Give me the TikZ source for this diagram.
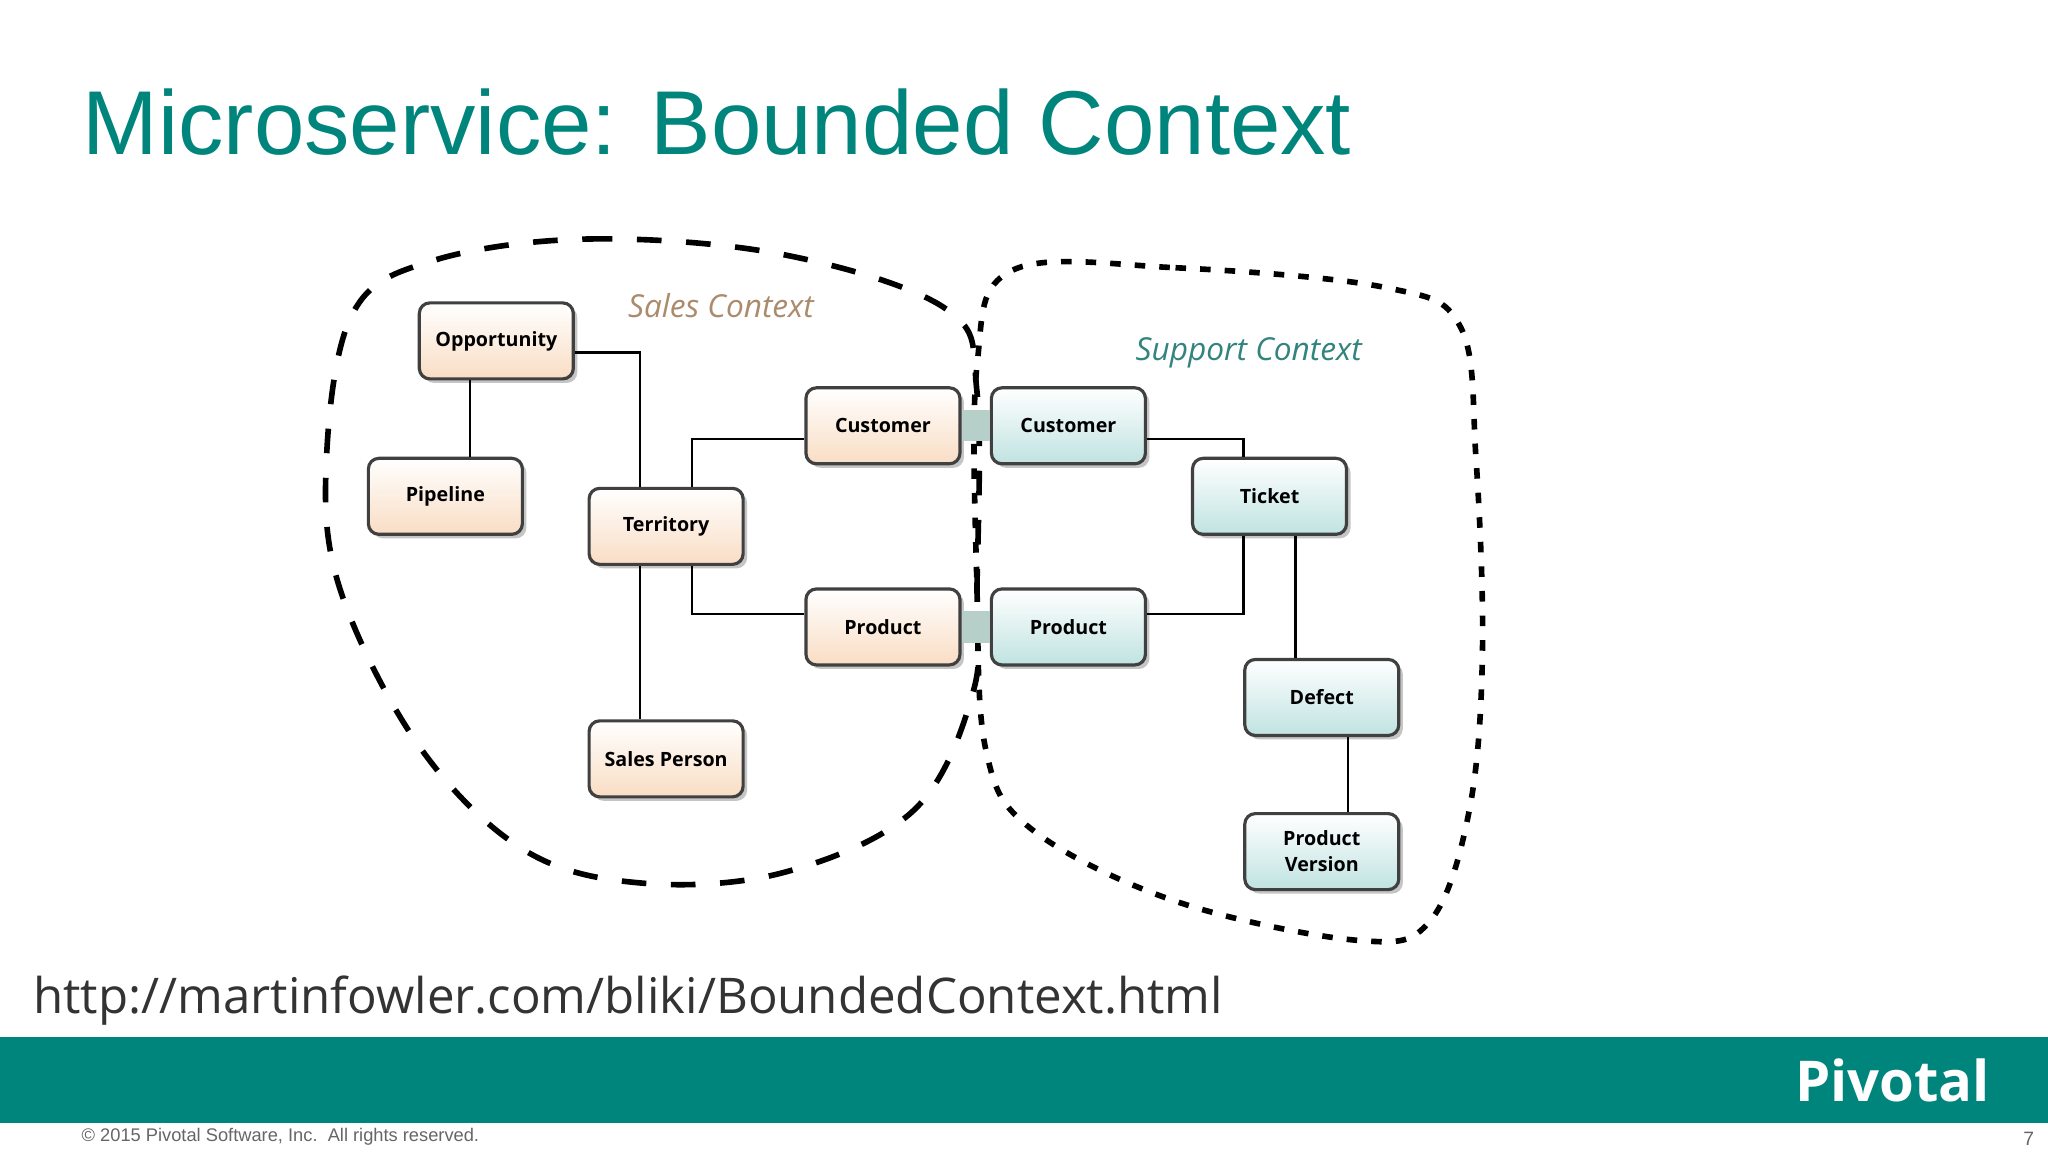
\documentclass[tikz,border=0pt]{standalone}
\usepackage{fontspec}
\setmainfont{Open Sans}
\newfontfamily\titlefont{Liberation Sans}
\usetikzlibrary{positioning,shadows,calc}
\definecolor{pTeal}{HTML}{00857D}
\definecolor{sPeach}{HTML}{F9DDC4}
\definecolor{sMint}{HTML}{BFE3E1}
\definecolor{sLink}{HTML}{B7CFC9}
\tikzset{
  box/.style={draw=black!75, line width=0.9pt, rounded corners=3pt,
    minimum width=1.54cm, minimum height=0.76cm, align=center,
    font=\fontsize{5.6}{6.4}\selectfont\bfseries,
    drop shadow={shadow xshift=0.4mm, shadow yshift=-0.4mm, fill=black!45}},
  sales/.style={box, top color=white, bottom color=sPeach},
  support/.style={box, top color=white, bottom color=sMint},
  wire/.style={line width=0.7pt, black},
}
\begin{document}
\begin{tikzpicture}[x=0.013061cm, y=-0.013061cm]
  \useasboundingbox (0,0) rectangle (1568,882);
  \fill[white] (0,0) rectangle (1568,882);
  \node[anchor=base west, inner sep=0pt, text=pTeal, font=\titlefont\fontsize{25.8}{27}\selectfont] (title) at (63,118) {Microservice: Bounded Context};

  % contexts
  \draw[line width=1.6pt, dash pattern=on 7pt off 7pt] plot[smooth cycle, tension=0.6] coordinates {
    (330,200) (450,183) (600,195) (725,237) (748,300) (748,450) (745,530) (700,620)
    (600,668) (490,676) (400,650) (320,570) (260,450) (250,350) (270,240)};
  \draw[line width=1.6pt, dash pattern=on 3pt off 4pt] plot[smooth cycle, tension=0.6] coordinates {
    (775,207) (900,205) (1060,220) (1118,250) (1130,350) (1135,500) (1125,620) (1095,705)
    (1040,720) (900,690) (790,635) (755,575) (748,450) (748,280)};
  \node[text=brown!70!black!70, font=\fontsize{9}{10}\selectfont\itshape] (salesctx) at (552,234) {Sales Context};
  \node[text=pTeal!60!gray, font=\fontsize{9}{10}\selectfont\itshape] (supportctx) at (956,270) {Support Context};

  % sales
  \node[sales] (opp) at (380,261) {Opportunity};
  \node[sales] (pipe) at (341,380) {Pipeline};
  \node[sales] (terr) at (510,403) {Territory};
  \node[sales] (custS) at (676,326) {Customer};
  \node[sales] (prodS) at (676,480) {Product};
  \node[sales] (person) at (510,581) {Sales Person};

  % support
  \node[support] (custT) at (818,326) {Customer};
  \node[support] (prodT) at (818,480) {Product};
  \node[support] (ticket) at (972,380) {Ticket};
  \node[support] (defect) at (1012,534) {Defect};
  \node[support] (version) at (1012,652) {Product\\[1pt]Version};

  \fill[sLink] (custS.east) ++(0,-12) rectangle ($(custT.west)+(0,12)$);
  \fill[sLink] (prodS.east) ++(0,-12) rectangle ($(prodT.west)+(0,12)$);

  \draw[wire] (opp.south -| 360,0) -- (pipe.north -| 360,0);
  \draw[wire] (opp.east |- 0,270) -| (terr.north -| 490,0);
  \draw[wire] (terr.north -| 530,0) |- (custS.west |- 0,336);
  \draw[wire] (terr.south -| 530,0) |- (prodS.west |- 0,470);
  \draw[wire] (terr.south -| 490,0) -- (person.north -| 490,0);
  \draw[wire] (custT.east |- 0,336) -| (ticket.north -| 952,0);
  \draw[wire] (prodT.east |- 0,470) -| (ticket.south -| 952,0);
  \draw[wire] (ticket.south -| 992,0) -- (defect.north -| 992,0);
  \draw[wire] (defect.south -| 1032,0) -- (version.north -| 1032,0);

  \node[anchor=base west, inner sep=0pt, text=black!80, font=\fontsize{14}{15}\selectfont] (url) at (25,776) {http://martinfowler.com/bliki/BoundedContext.html};

  \fill[pTeal] (0,794) rectangle (1568,860);
  \node[anchor=base east, inner sep=0pt, text=white, font=\fontsize{16}{17}\selectfont\bfseries] (logo) at (1524,843) {Pivotal};
  \node[anchor=base west, inner sep=0pt, text=black!60, font=\titlefont\fontsize{5.2}{6}\selectfont] (copy) at (62,874) {© 2015 Pivotal Software, Inc.\ \ All rights reserved.};
  \node[anchor=base east, inner sep=0pt, text=black!60, font=\titlefont\fontsize{5.5}{6}\selectfont] (page) at (1558,877) {7};
\end{tikzpicture}
\end{document}
